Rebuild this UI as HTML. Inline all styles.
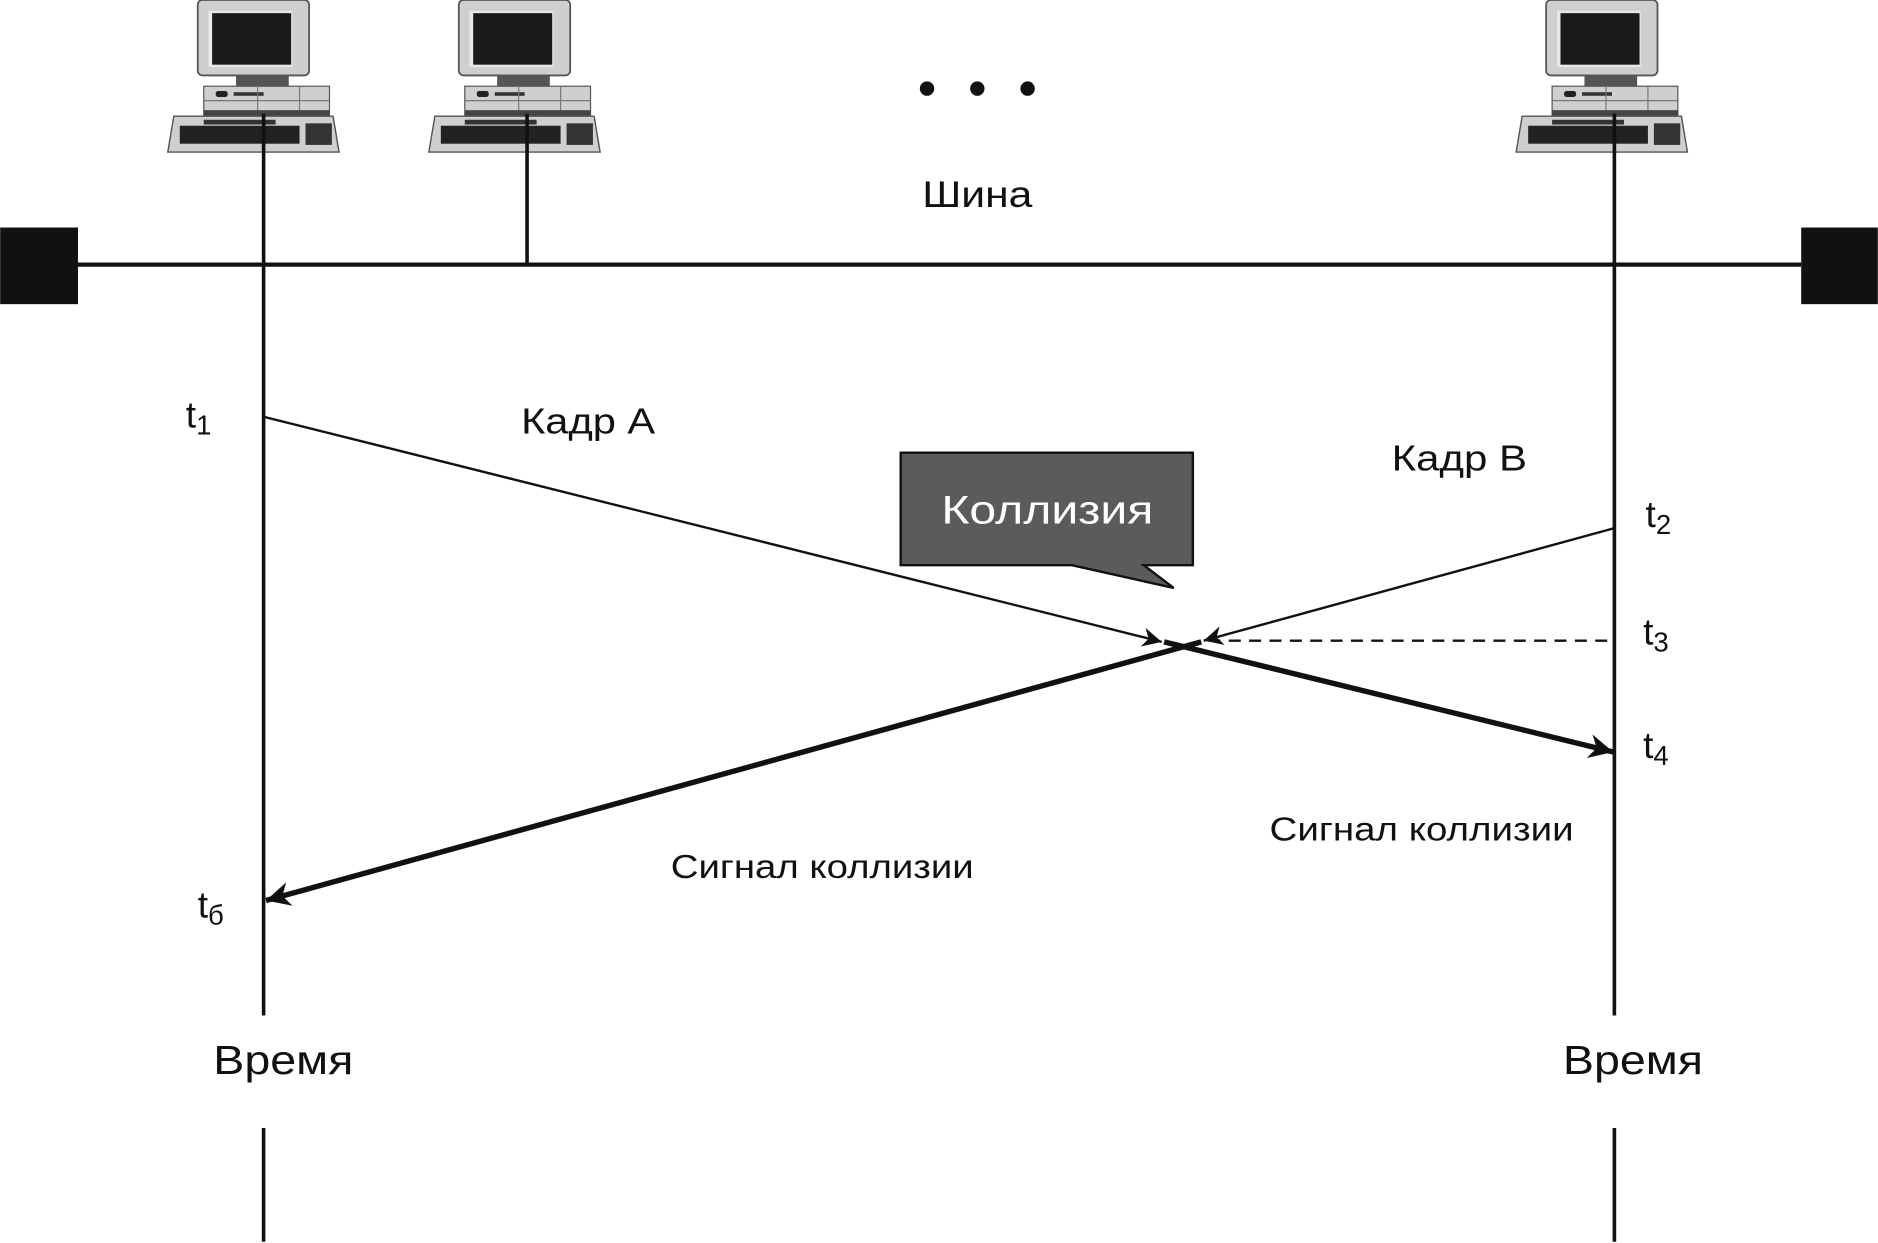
<!DOCTYPE html>
<html><head><meta charset="utf-8"><style>
html,body{margin:0;padding:0;background:#fff;}
svg{display:block}
text{font-family:"Liberation Sans","DejaVu Sans",sans-serif;fill:#111}
</style></head><body>
<svg width="1878" height="1243" viewBox="0 0 1568 1038" xmlns="http://www.w3.org/2000/svg">
<defs>
<g id="pc">
  <rect x="25" y="0" width="93" height="63" rx="4" fill="#cfcfcf" stroke="#555" stroke-width="1.5"/>
  <rect x="34" y="9" width="70" height="47" fill="#e8e8e8"/>
  <rect x="37" y="11" width="66" height="43" fill="#1a1a1a"/>
  <rect x="57" y="63" width="44" height="9" fill="#555"/>
  <rect x="30" y="72" width="105" height="25" fill="#cfcfcf" stroke="#555" stroke-width="1"/>
  <line x1="30" y1="84" x2="135" y2="84" stroke="#777"/>
  <rect x="40" y="76" width="10" height="5" rx="2" fill="#222"/>
  <rect x="55" y="77" width="25" height="3" fill="#333"/>
  <line x1="75" y1="72" x2="75" y2="92" stroke="#777"/>
  <line x1="110" y1="72" x2="110" y2="92" stroke="#777"/>
  <rect x="30" y="92" width="105" height="5" fill="#444"/>
  <path d="M5 97 L138 97 L143 127 L0 127 Z" fill="#cfcfcf" stroke="#555" stroke-width="1.2"/>
  <rect x="10" y="105" width="100" height="15" fill="#222"/>
  <rect x="115" y="103" width="22" height="18" fill="#333"/>
  <rect x="30" y="100" width="60" height="4" fill="#333"/>
</g>
<marker id="ah" viewBox="0 0 10 10" refX="10" refY="5" markerWidth="20" markerHeight="16" markerUnits="userSpaceOnUse" orient="auto">
  <path d="M0 0 L10 5 L0 10 L3 5 Z" fill="#111"/>
</marker>
<marker id="ah2" viewBox="0 0 10 10" refX="10" refY="5" markerWidth="5" markerHeight="4.5" orient="auto">
  <path d="M0 0 L10 5 L0 10 L3 5 Z" fill="#111"/>
</marker>
</defs>
<use href="#pc" x="140" y="0"/>
<use href="#pc" x="358" y="0"/>
<use href="#pc" x="1266" y="0"/>
<circle cx="774" cy="74" r="6" fill="#111"/>
<circle cx="816" cy="74" r="6" fill="#111"/>
<circle cx="858" cy="74" r="6" fill="#111"/>
<text x="770" y="173" font-size="31" textLength="92" lengthAdjust="spacingAndGlyphs">Шина</text>
<rect x="0" y="190" width="65" height="64" fill="#111"/>
<rect x="1504" y="190" width="64" height="64" fill="#111"/>
<line x1="65" y1="221" x2="1504" y2="221" stroke="#111" stroke-width="3.5"/>
<g stroke="#111" stroke-width="3">
<line x1="220" y1="95" x2="220" y2="848"/>
<line x1="440" y1="95" x2="440" y2="221"/>
<line x1="1348" y1="95" x2="1348" y2="848"/>
<line x1="220" y1="942" x2="220" y2="1037"/>
<line x1="1348" y1="942" x2="1348" y2="1037"/>
</g>
<line x1="220" y1="348" x2="970" y2="536" stroke="#111" stroke-width="2" marker-end="url(#ah)"/>
<line x1="1348" y1="441" x2="1005" y2="535" stroke="#111" stroke-width="2" marker-end="url(#ah)"/>
<line x1="1342" y1="535" x2="1015" y2="535" stroke="#111" stroke-width="2" stroke-dasharray="10,7"/>
<line x1="972" y1="536" x2="1347" y2="628" stroke="#111" stroke-width="4.5" marker-end="url(#ah2)"/>
<line x1="1003" y1="536" x2="222" y2="752" stroke="#111" stroke-width="4.5" marker-end="url(#ah2)"/>
<path d="M752 378 L996 378 L996 472 L955 472 L980 491 L895 472 L752 472 Z" fill="#5b5b5b" stroke="#111" stroke-width="2"/>
<text x="786" y="437" font-size="33" textLength="177" lengthAdjust="spacingAndGlyphs" style="fill:#fff">Коллизия</text>
<text x="435" y="362" font-size="30" textLength="112" lengthAdjust="spacingAndGlyphs">Кадр А</text>
<text x="1162" y="393" font-size="30" textLength="113" lengthAdjust="spacingAndGlyphs">Кадр B</text>
<text x="155" y="357" font-size="31">t<tspan font-size="23" dy="6">1</tspan></text>
<text x="1374" y="440" font-size="31">t<tspan font-size="23" dy="6">2</tspan></text>
<text x="1372" y="538" font-size="31">t<tspan font-size="23" dy="6">3</tspan></text>
<text x="1372" y="633" font-size="31">t<tspan font-size="23" dy="6">4</tspan></text>
<text x="165" y="766" font-size="31">t<tspan font-size="23" dy="6">б</tspan></text>
<text x="1060" y="702" font-size="28" textLength="254" lengthAdjust="spacingAndGlyphs">Сигнал коллизии</text>
<text x="560" y="733" font-size="28" textLength="253" lengthAdjust="spacingAndGlyphs">Сигнал коллизии</text>
<text x="178" y="897" font-size="34" textLength="117" lengthAdjust="spacingAndGlyphs">Время</text>
<text x="1305" y="897" font-size="34" textLength="117" lengthAdjust="spacingAndGlyphs">Время</text>
</svg>
</body></html>
